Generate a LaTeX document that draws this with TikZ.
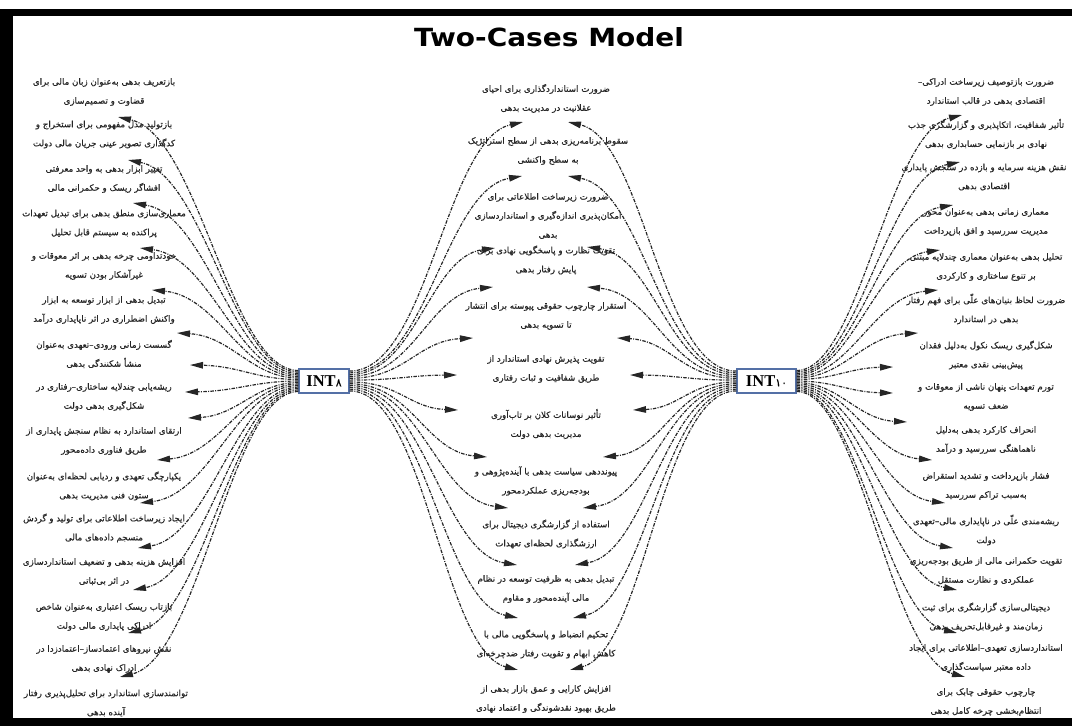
\documentclass[tikz,border=0pt]{standalone}
\usepackage{fontspec}
\usepackage{tikz}
\usetikzlibrary{arrows.meta,positioning}
\TeXXeTstate=1
\newfontfamily\persianfont[Script=Arabic,FakeBold=0.4]{DejaVu Sans}
\newfontfamily\titlefont[FakeStretch=1.12]{DejaVu Sans}
\newfontfamily\hubfont{Liberation Serif}
\newcommand\rl[1]{\beginR#1\endR}
\definecolor{hubblue}{RGB}{84,112,166}
\tikzset{
  lbl/.style={align=center, text=black!85, inner sep=1pt,
    font=\persianfont\fontsize{8.7}{19}\selectfont},
  hub/.style={draw=hubblue, line width=1.3pt, fill=white, minimum height=24pt,
    inner sep=2pt, font=\hubfont\bfseries\fontsize{16.5}{18}\selectfont},
  link/.style={draw=black!85, line width=1.2pt,
    dash pattern=on 3.5pt off 1.3pt on 1pt off 1.3pt,
    -{Triangle[length=13pt,width=6.5pt]}},
}
\begin{document}
\begin{tikzpicture}[x=1pt, y=-1pt]
  \useasboundingbox (0,0) rectangle (1072,726);
  \fill[white] (0,0) rectangle (1072,726);
  % frame
  \fill[black] (0,9) rectangle (1072,16);
  \fill[black] (0,9) rectangle (13,726);
  \fill[black] (0,718) rectangle (1072,726);

  \node[font=\titlefont\bfseries\fontsize{25}{29}\selectfont] (title) at (549,37) {Two-Cases Model};

  \node[hub, minimum width=50pt] (int8) at (324,381) {INT{\persianfont\mdseries\fontsize{11}{12}\selectfont ۸}};
  \node[hub, minimum width=59pt] (int10) at (766.5,381) {INT{\persianfont\mdseries\fontsize{11}{12}\selectfont ۱۰}};

  % left column
  \node[lbl] (L1) at (104,92) {\rl{بازتعریف بدهی به‌عنوان زبان مالی برای}\\\rl{قضاوت و تصمیم‌سازی}};
  \node[lbl] (L2) at (104,134.5) {\rl{بازتولید مدل مفهومی برای استخراج و}\\\rl{کدگذاری تصویر عینی جریان مالی دولت}};
  \node[lbl] (L3) at (104,179) {\rl{تغییر ابزار بدهی به واحد معرفتی}\\\rl{افشاگر ریسک و حکمرانی مالی}};
  \node[lbl] (L4) at (104,223.5) {\rl{معماری‌سازی منطق بدهی برای تبدیل تعهدات}\\\rl{پراکنده به سیستم قابل تحلیل}};
  \node[lbl] (L5) at (104,266) {\rl{خودتداومی چرخه بدهی بر اثر معوقات و}\\\rl{غیرآشکار بودن تسویه}};
  \node[lbl] (L6) at (104,310) {\rl{تبدیل بدهی از ابزار توسعه به ابزار}\\\rl{واکنش اضطراری در اثر ناپایداری درآمد}};
  \node[lbl] (L7) at (104,354) {\rl{گسست زمانی ورودی–تعهدی به‌عنوان}\\\rl{منشأ شکنندگی بدهی}};
  \node[lbl] (L8) at (104,397) {\rl{ریشه‌یابی چندلایه ساختاری–رفتاری در}\\\rl{شکل‌گیری بدهی دولت}};
  \node[lbl] (L9) at (104,441) {\rl{ارتقای استاندارد به نظام سنجش پایداری از}\\\rl{طریق فناوری داده‌محور}};
  \node[lbl] (L10) at (104,486) {\rl{یکپارچگی تعهدی و ردیابی لحظه‌ای به‌عنوان}\\\rl{ستون فنی مدیریت بدهی}};
  \node[lbl] (L11) at (104,528) {\rl{ایجاد زیرساخت اطلاعاتی برای تولید و گردش}\\\rl{منسجم داده‌های مالی}};
  \node[lbl] (L12) at (104,572) {\rl{افزایش هزینه بدهی و تضعیف استانداردسازی}\\\rl{در اثر بی‌ثباتی}};
  \node[lbl] (L13) at (104,617) {\rl{بازتاب ریسک اعتباری به‌عنوان شاخص}\\\rl{ادراکی پایداری مالی دولت}};
  \node[lbl] (L14) at (104,659) {\rl{نقش نیروهای اعتمادساز–اعتمادزدا در}\\\rl{ادراک نهادی بدهی}};
  \node[lbl] (L15) at (106,703) {\rl{توانمندسازی استاندارد برای تحلیل‌پذیری رفتار}\\\rl{آینده بدهی}};

  % middle column
  \node[lbl] (M1) at (546,98.5) {\rl{ضرورت استانداردگذاری برای احیای}\\\rl{عقلانیت در مدیریت بدهی}};
  \node[lbl] (M2) at (548,151) {\rl{سقوط برنامه‌ریزی بدهی از سطح استراتژیک}\\\rl{به سطح واکنشی}};
  \node[lbl] (M3) at (548,216) {\rl{ضرورت زیرساخت اطلاعاتی برای}\\\rl{امکان‌پذیری اندازه‌گیری و استانداردسازی}\\\rl{بدهی}};
  \node[lbl] (M4) at (546,260) {\rl{تقویت نظارت و پاسخگویی نهادی برای}\\\rl{پایش رفتار بدهی}};
  \node[lbl] (M5) at (546,316) {\rl{استقرار چارچوب حقوقی پیوسته برای انتشار}\\\rl{تا تسویه بدهی}};
  \node[lbl] (M6) at (546,369) {\rl{تقویت پذیرش نهادی استاندارد از}\\\rl{طریق شفافیت و ثبات رفتاری}};
  \node[lbl] (M7) at (546,424) {\rl{تأثیر نوسانات کلان بر تاب‌آوری}\\\rl{مدیریت بدهی دولت}};
  \node[lbl] (M8) at (546,481) {\rl{پیونددهی سیاست بدهی با آینده‌پژوهی و}\\\rl{بودجه‌ریزی عملکردمحور}};
  \node[lbl] (M9) at (546,534) {\rl{استفاده از گزارشگری دیجیتال برای}\\\rl{ارزشگذاری لحظه‌ای تعهدات}};
  \node[lbl] (M10) at (546,589) {\rl{تبدیل بدهی به ظرفیت توسعه در نظام}\\\rl{مالی آینده‌محور و مقاوم}};
  \node[lbl] (M11) at (546,644) {\rl{تحکیم انضباط و پاسخگویی مالی با}\\\rl{کاهش ابهام و تقویت رفتار ضدچرخه‌ای}};
  \node[lbl] (M12) at (546,699) {\rl{افزایش کارایی و عمق بازار بدهی از}\\\rl{طریق بهبود نقدشوندگی و اعتماد نهادی}};

  % right column
  \node[lbl] (R1) at (986,92) {\rl{ضرورت بازتوصیف زیرساخت ادراکی–}\\\rl{اقتصادی بدهی در قالب استاندارد}};
  \node[lbl] (R2) at (986,134) {\rl{تأثیر شفافیت، اتکاپذیری و گزارشگری جذب}\\\rl{نهادی بر بازنمایی حسابداری بدهی}};
  \node[lbl] (R3) at (984,177) {\rl{نقش هزینه سرمایه و بازده در سنجش پایداری}\\\rl{اقتصادی بدهی}};
  \node[lbl] (R4) at (986,222) {\rl{معماری زمانی بدهی به‌عنوان محور}\\\rl{مدیریت سررسید و افق بازپرداخت}};
  \node[lbl] (R5) at (986,267) {\rl{تحلیل بدهی به‌عنوان معماری چندلایه مبتنی}\\\rl{بر تنوع ساختاری و کارکردی}};
  \node[lbl] (R6) at (986,309) {\rl{ضرورت لحاظ بنیان‌های علّی برای فهم رفتار}\\\rl{بدهی در استاندارد}};
  \node[lbl] (R7) at (986,355) {\rl{شکل‌گیری ریسک نکول به‌دلیل فقدان}\\\rl{پیش‌بینی نقدی معتبر}};
  \node[lbl] (R8) at (986,397) {\rl{تورم تعهدات پنهان ناشی از معوقات و}\\\rl{ضعف تسویه}};
  \node[lbl] (R9) at (986,440) {\rl{انحراف کارکرد بدهی به‌دلیل}\\\rl{ناهماهنگی سررسید و درآمد}};
  \node[lbl] (R10) at (986,486) {\rl{فشار بازپرداخت و تشدید استقراض}\\\rl{به‌سبب تراکم سررسید}};
  \node[lbl] (R11) at (986,530) {\rl{ریشه‌مندی علّی در ناپایداری مالی–تعهدی}\\\rl{دولت}};
  \node[lbl] (R12) at (986,571) {\rl{تقویت حکمرانی مالی از طریق بودجه‌ریزی}\\\rl{عملکردی و نظارت مستقل}};
  \node[lbl] (R13) at (986,617) {\rl{دیجیتالی‌سازی گزارشگری برای ثبت}\\\rl{زمان‌مند و غیرقابل‌تحریف بدهی}};
  \node[lbl] (R14) at (986,658) {\rl{استانداردسازی تعهدی–اطلاعاتی برای ایجاد}\\\rl{داده معتبر سیاست‌گذاری}};
  \node[lbl] (R15) at (986,702) {\rl{چارچوب حقوقی چابک برای}\\\rl{انتظام‌بخشی چرخه کامل بدهی}};

  % INT8 -> left column
  \foreach \i/\tx/\ty in {1/118/117, 2/128/160, 3/133/203, 4/140/248, 5/152/290,
      6/177/333, 7/190/365, 8/185/392, 9/188/418, 10/157/460, 11/140/503,
      12/138/548, 13/133/590, 14/128/633, 15/120/677}{
    \coordinate (l\i) at (\tx,\ty);
    \pgfmathsetmacro\sh{(8-\i)*1.5}
    \pgfmathsetmacro\dx{299-\tx}
    \pgfmathsetmacro\dy{381-\sh-\ty}
    \draw[link] ([yshift=\sh pt]int8.west) .. controls +(-0.38*\dx,0) and +(0.45*\dx,0.07*\dy) .. (l\i);
  }
  % INT8 -> middle column
  \foreach \i/\tx/\ty in {1/523/122, 2/522/176, 3/495/248, 4/493/287, 5/473/338,
      6/457/375, 7/458/410, 8/487/457, 9/508/508, 10/517/565, 11/518/618, 12/518/670}{
    \coordinate (ml\i) at (\tx,\ty);
    \pgfmathsetmacro\sh{(6.5-\i)*1.8}
    \pgfmathsetmacro\dx{\tx-349}
    \pgfmathsetmacro\dy{381-\sh-\ty}
    \draw[link] ([yshift=\sh pt]int8.east) .. controls +(0.45*\dx,0) and +(-0.45*\dx,0.07*\dy) .. (ml\i);
  }
  % INT10 -> middle column
  \foreach \i/\tx/\ty in {1/568/122, 2/568/176, 3/587/247, 4/587/287, 5/617/338,
      6/630/375, 7/633/410, 8/603/457, 9/583/508, 10/575/565, 11/573/618, 12/570/670}{
    \coordinate (mr\i) at (\tx,\ty);
    \pgfmathsetmacro\sh{(6.5-\i)*1.8}
    \pgfmathsetmacro\dx{737-\tx}
    \pgfmathsetmacro\dy{381-\sh-\ty}
    \draw[link] ([yshift=\sh pt]int10.west) .. controls +(-0.45*\dx,0) and +(0.45*\dx,0.07*\dy) .. (mr\i);
  }
  % INT10 -> right column
  \foreach \i/\tx/\ty in {1/962/115, 2/960/162, 3/953/205, 4/940/250, 5/938/290,
      6/918/333, 7/893/367, 8/893/393, 9/907/422, 10/932/460, 11/945/503,
      12/953/548, 13/957/590, 14/957/633, 15/965/677}{
    \coordinate (r\i) at (\tx,\ty);
    \pgfmathsetmacro\sh{(8-\i)*1.5}
    \pgfmathsetmacro\dx{\tx-796}
    \pgfmathsetmacro\dy{381-\sh-\ty}
    \draw[link] ([yshift=\sh pt]int10.east) .. controls +(0.38*\dx,0) and +(-0.45*\dx,0.07*\dy) .. (r\i);
  }
\end{tikzpicture}
\end{document}
